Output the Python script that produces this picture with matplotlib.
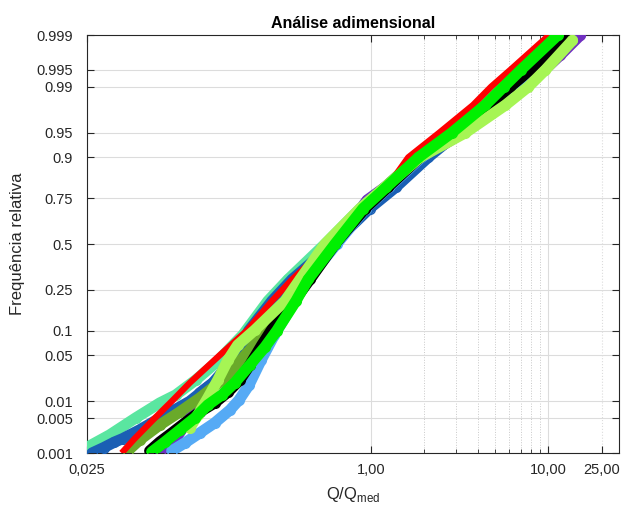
import numpy as np
import matplotlib
matplotlib.use('Agg')
import matplotlib.pyplot as plt
from matplotlib.ticker import FixedLocator, FixedFormatter, NullFormatter
from statistics import NormalDist

# probabilidades (frequencia relativa) e Q/Qmed, por serie
p_roxo = [0.00105, 0.00188, 0.00505, 0.0138, 0.0312, 0.0779, 0.2, 0.3, 0.5, 0.6275, 0.742, 0.8, 0.9, 0.95, 0.98, 0.99, 0.995, 0.9974, 0.999]
q_roxo = [0.0643, 0.0781, 0.0949, 0.108, 0.160, 0.230, 0.349, 0.424, 0.600, 0.770, 0.950, 1.20, 1.95, 3.30, 5.50, 7.30, 9.50, 11.69, 15.16]

p_menta = [0.00141, 0.00237, 0.00505, 0.00937, 0.0128, 0.0222, 0.0393, 0.0893, 0.2, 0.3, 0.5, 0.7, 0.8, 0.9, 0.95, 0.98, 0.99, 0.995, 0.999]
q_menta = [0.0258, 0.0335, 0.0470, 0.0643, 0.0791, 0.1026, 0.133, 0.189, 0.262, 0.340, 0.550, 0.867, 1.20, 1.85, 2.72, 4.24, 5.36, 6.95, 10.67]

p_azul = [0.001, 0.0013, 0.0017, 0.002, 0.003, 0.005, 0.01, 0.02, 0.05, 0.1, 0.2, 0.3, 0.5, 0.7, 0.8, 0.9, 0.95, 0.98, 0.99, 0.995, 0.999]
q_azul = [0.0267, 0.0310, 0.0357, 0.0397, 0.0495, 0.0643, 0.0949, 0.128, 0.175, 0.204, 0.276, 0.358, 0.610, 0.98, 1.38, 2.10, 3.10, 4.70, 6.00, 7.60, 11.10]

p_oliva = [0.00111, 0.00188, 0.00373, 0.0065, 0.0114, 0.0238, 0.0586, 0.1156, 0.204, 0.3, 0.5, 0.7, 0.8, 0.9, 0.95, 0.98, 0.99, 0.995, 0.999]
q_oliva = [0.0424, 0.0495, 0.0643, 0.0833, 0.108, 0.150, 0.207, 0.269, 0.349, 0.424, 0.587, 0.890, 1.20, 1.843, 2.87, 4.58, 5.94, 7.71, 12.0]

p_azulclaro = [0.00111, 0.00163, 0.0026, 0.00407, 0.00706, 0.01055, 0.01855, 0.0432, 0.0893, 0.204, 0.3, 0.5, 0.7, 0.8, 0.9, 0.95, 0.98, 0.99, 0.995, 0.999]
q_azulclaro = [0.0751, 0.0889, 0.108, 0.131, 0.160, 0.180, 0.205, 0.240, 0.285, 0.375, 0.440, 0.640, 0.930, 1.26, 1.92, 3.10, 5.00, 6.51, 8.44, 12.64]

p_vermelho = [0.001, 0.002, 0.005, 0.01, 0.02, 0.05, 0.1, 0.2, 0.3, 0.5, 0.7, 0.8, 0.9, 0.95, 0.98, 0.99, 0.995, 0.999]
q_vermelho = [0.0392, 0.0464, 0.0602, 0.0751, 0.0949, 0.140, 0.199, 0.276, 0.358, 0.587, 0.949, 1.230, 1.62, 2.42, 3.75, 4.75, 6.10, 10.10]

p_preto = [0.00111, 0.00171, 0.0026, 0.00407, 0.0065, 0.00937, 0.0143, 0.0222, 0.0368, 0.0677, 0.1306, 0.204, 0.3, 0.5, 0.7, 0.8, 0.9, 0.95, 0.98, 0.99, 0.995, 0.999]
q_preto = [0.0564, 0.0643, 0.0751, 0.0889, 0.108, 0.131, 0.156, 0.182, 0.207, 0.242, 0.298, 0.372, 0.452, 0.626, 0.925, 1.247, 1.89, 2.98, 4.70, 6.10, 7.91, 12.48]

p_verdeclaro = [0.00326, 0.00573, 0.0114, 0.0222, 0.0432, 0.0677, 0.1018, 0.2, 0.3, 0.5, 0.7, 0.8, 0.9, 0.95, 0.98, 0.99, 0.995, 0.9987]
q_verdeclaro = [0.0949, 0.1054, 0.120, 0.1367, 0.156, 0.177, 0.221, 0.327, 0.397, 0.550, 0.867, 1.20, 1.89, 3.40, 5.72, 7.71, 9.62, 13.66]

p_verde = [0.00105, 0.00171, 0.00298, 0.00505, 0.00865, 0.0128, 0.02, 0.0368, 0.0639, 0.1, 0.2, 0.3, 0.5, 0.7, 0.8, 0.9, 0.95, 0.98, 0.99, 0.995, 0.999]
q_verde = [0.0579, 0.0686, 0.0833, 0.1013, 0.120, 0.144, 0.170, 0.207, 0.252, 0.294, 0.377, 0.441, 0.626, 0.900, 1.22, 1.85, 2.85, 4.40, 5.60, 7.00, 11.30]

# (Q, p, cor, circulos?)
series = [
    (q_roxo, p_roxo, '#7030c0', True),
    (q_menta, p_menta, '#5ae6a0', True),
    (q_azul, p_azul, '#1a5fb4', True),
    (q_oliva, p_oliva, '#6aaa2a', True),
    (q_azulclaro, p_azulclaro, '#55aaf5', True),
    (q_vermelho, p_vermelho, '#ff0000', False),
    (q_preto, p_preto, '#000000', True),
    (q_verdeclaro, p_verdeclaro, '#a6f554', True),
    (q_verde, p_verde, '#00f000', True),
]

yticks = [0.001, 0.005, 0.01, 0.05, 0.1, 0.25, 0.5, 0.75, 0.9, 0.95, 0.99, 0.995, 0.999]
ytick_labels = ['0.001', '0.005', '0.01', '0.05', '0.1', '0.25', '0.5', '0.75', '0.9', '0.95', '0.99', '0.995', '0.999']
xticks = [0.025, 1, 10, 20]
xtick_labels = ['0,025', '1,00', '10,00', '25,00']
xminor = [2, 3, 4, 5, 6, 7, 8, 9, 20]

_nd = NormalDist()


# escala de probabilidade normal
def prob_fwd(p):
    p = np.clip(np.asarray(p, dtype=float), 1e-9, 1 - 1e-9)
    return np.vectorize(_nd.inv_cdf, otypes=[float])(p)


def prob_inv(z):
    return np.vectorize(_nd.cdf, otypes=[float])(np.asarray(z, dtype=float))


plt.rcParams['font.family'] = ['Liberation Sans', 'DejaVu Sans']

fig = plt.figure(figsize=(6.41, 5.09), dpi=100)
ax = fig.add_axes([0.1357, 0.110, 0.830, 0.8212])
ax.set_xscale('log')
ax.set_yscale('function', functions=(prob_fwd, prob_inv))

for q, p, cor, circ in series:
    if circ:
        ax.plot(q, p, '-', color=cor, lw=8, solid_capstyle='round', solid_joinstyle='round', zorder=3)
        ax.plot(q, p, 'o', mfc='none', mec=cor, ms=7, mew=1, zorder=3)
    else:
        # ajuste (linha)
        ax.plot(q, p, '-', color=cor, lw=4.5, solid_capstyle='butt', zorder=3)

ax.set_xlim(0.025, 25)
ax.set_ylim(0.001, 0.999)

ax.xaxis.set_major_locator(FixedLocator(xticks))
ax.xaxis.set_major_formatter(FixedFormatter(xtick_labels))
ax.xaxis.set_minor_locator(FixedLocator(xminor))
ax.xaxis.set_minor_formatter(NullFormatter())
ax.yaxis.set_major_locator(FixedLocator(yticks))
ax.yaxis.set_major_formatter(FixedFormatter(ytick_labels))
ax.yaxis.set_minor_locator(FixedLocator([]))

ax.grid(True, which='major', color='#dcdcdc', lw=0.8, zorder=0)
ax.grid(True, which='minor', axis='x', color='#c8c8c8', lw=0.7, ls=':', zorder=0)
ax.get_xgridlines()[3].set_linestyle(':')
ax.set_axisbelow(True)

ax.tick_params(which='both', direction='in', top=True, right=True, colors='#262626', labelsize=10.5)
ax.tick_params(which='major', length=5)
ax.tick_params(which='minor', length=3)
ax.tick_params(axis='x', pad=7)
ax.tick_params(axis='y', pad=10)
for s in ax.spines.values():
    s.set_color('#262626')
    s.set_linewidth(0.8)

ax.set_title('Análise adimensional', fontsize=11.5, fontweight='bold', pad=5)
ax.set_xlabel('Q/Q$_\\mathregular{med}$', fontsize=12, labelpad=6, color='#262626')
ax.set_ylabel('Frequência relativa', fontsize=12, labelpad=8, color='#262626')

fig.savefig('out.png', dpi=100)
